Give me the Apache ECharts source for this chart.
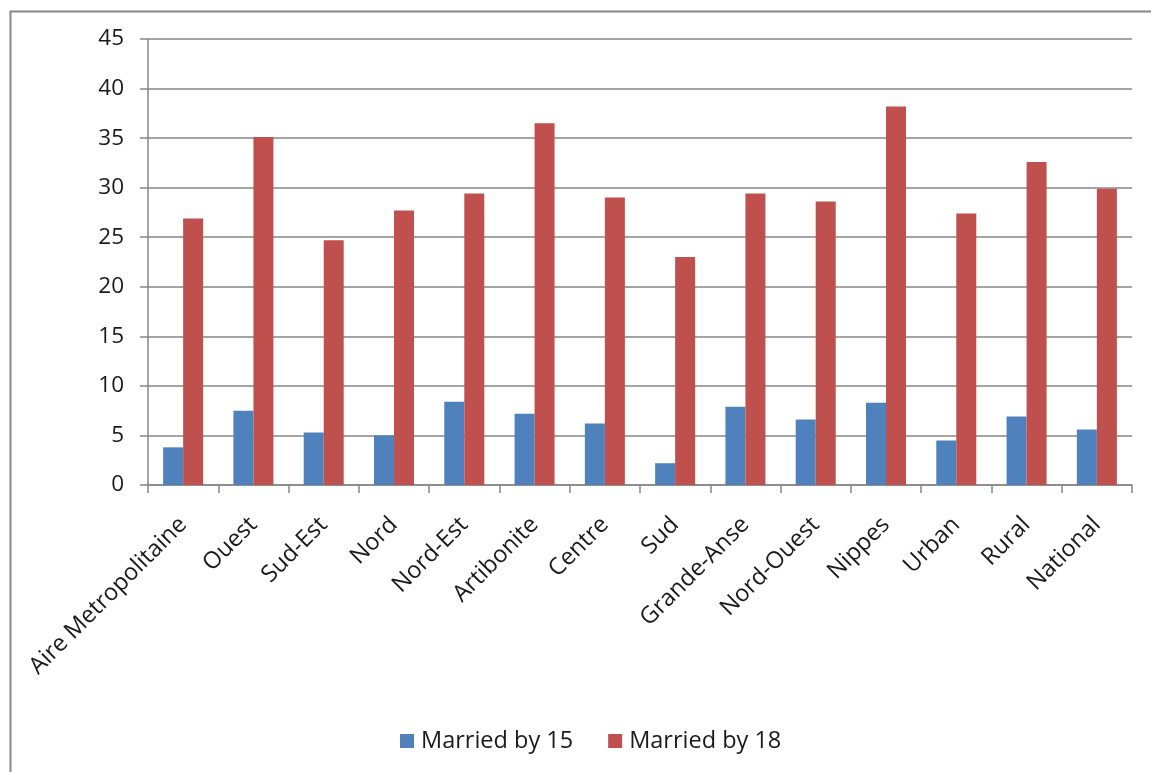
<!DOCTYPE html>
<html>
<head>
<meta charset="utf-8">
<script src="https://cdn.jsdelivr.net/npm/echarts@6/dist/echarts.min.js"></script>
<style>
html,body{margin:0;padding:0;background:#fff;}
#chart{width:1151px;height:772px;}
</style>
</head>
<body>
<div id="chart"></div>
<script>
var categories = ["Aire Metropolitaine","Ouest","Sud-Est","Nord","Nord-Est","Artibonite","Centre","Sud","Grande-Anse","Nord-Ouest","Nippes","Urban","Rural","National"];
var marriedBy15 = [3.8,7.5,5.3,5.0,8.4,7.2,6.2,2.2,7.9,6.6,8.3,4.5,6.9,5.6];
var marriedBy18 = [26.9,35.1,24.7,27.7,29.4,36.5,29.0,23.0,29.4,28.6,38.2,27.4,32.6,29.9];
var yTicks = {min:0, max:45, interval:5};

var chart = echarts.init(document.getElementById('chart'), null, {renderer:'canvas'});
var font = '"Open Sans", "Liberation Sans", sans-serif';
chart.setOption({
  animation:false,
  backgroundColor:'#ffffff',
  textStyle:{fontFamily:font},
  graphic:[{
    type:'rect', left:8, top:9, shape:{x:0,y:0,width:1160,height:780},
    style:{fill:'none', stroke:'#868686', lineWidth:2}, silent:true, z:-10
  }],
  grid:{left:148, right:19, top:39, bottom:287, containLabel:false},
  legend:{
    bottom:14, left:395, itemWidth:14, itemHeight:14, itemGap:35,
    icon:'rect',
    textStyle:{fontSize:23.5, color:'#1a1a1a', fontFamily:font, padding:[0,0,0,2]},
    data:['Married by 15','Married by 18']
  },
  xAxis:{
    type:'category', data:categories,
    axisLine:{lineStyle:{color:'#868686', width:1.5}},
    axisTick:{show:true, alignWithLabel:false, length:8, lineStyle:{color:'#868686', width:1.5}},
    axisLabel:{rotate:45, interval:0, fontSize:23.5, color:'#1a1a1a', margin:36, fontFamily:font}
  },
  yAxis:{
    type:'value', min:yTicks.min, max:yTicks.max, interval:yTicks.interval,
    axisLine:{show:true, lineStyle:{color:'#868686', width:1.5}},
    axisTick:{show:true, length:8, lineStyle:{color:'#868686', width:1.5}},
    splitLine:{lineStyle:{color:'#868686', width:1.5}},
    axisLabel:{fontSize:22.5, color:'#1a1a1a', margin:24, fontFamily:font}
  },
  series:[
    {name:'Married by 15', type:'bar', data:marriedBy15, barWidth:20, barGap:'0%',
     itemStyle:{color:'#4F81BD'}},
    {name:'Married by 18', type:'bar', data:marriedBy18, barWidth:20, barGap:'0%',
     itemStyle:{color:'#C0504D'}}
  ]
});
</script>
</body>
</html>
